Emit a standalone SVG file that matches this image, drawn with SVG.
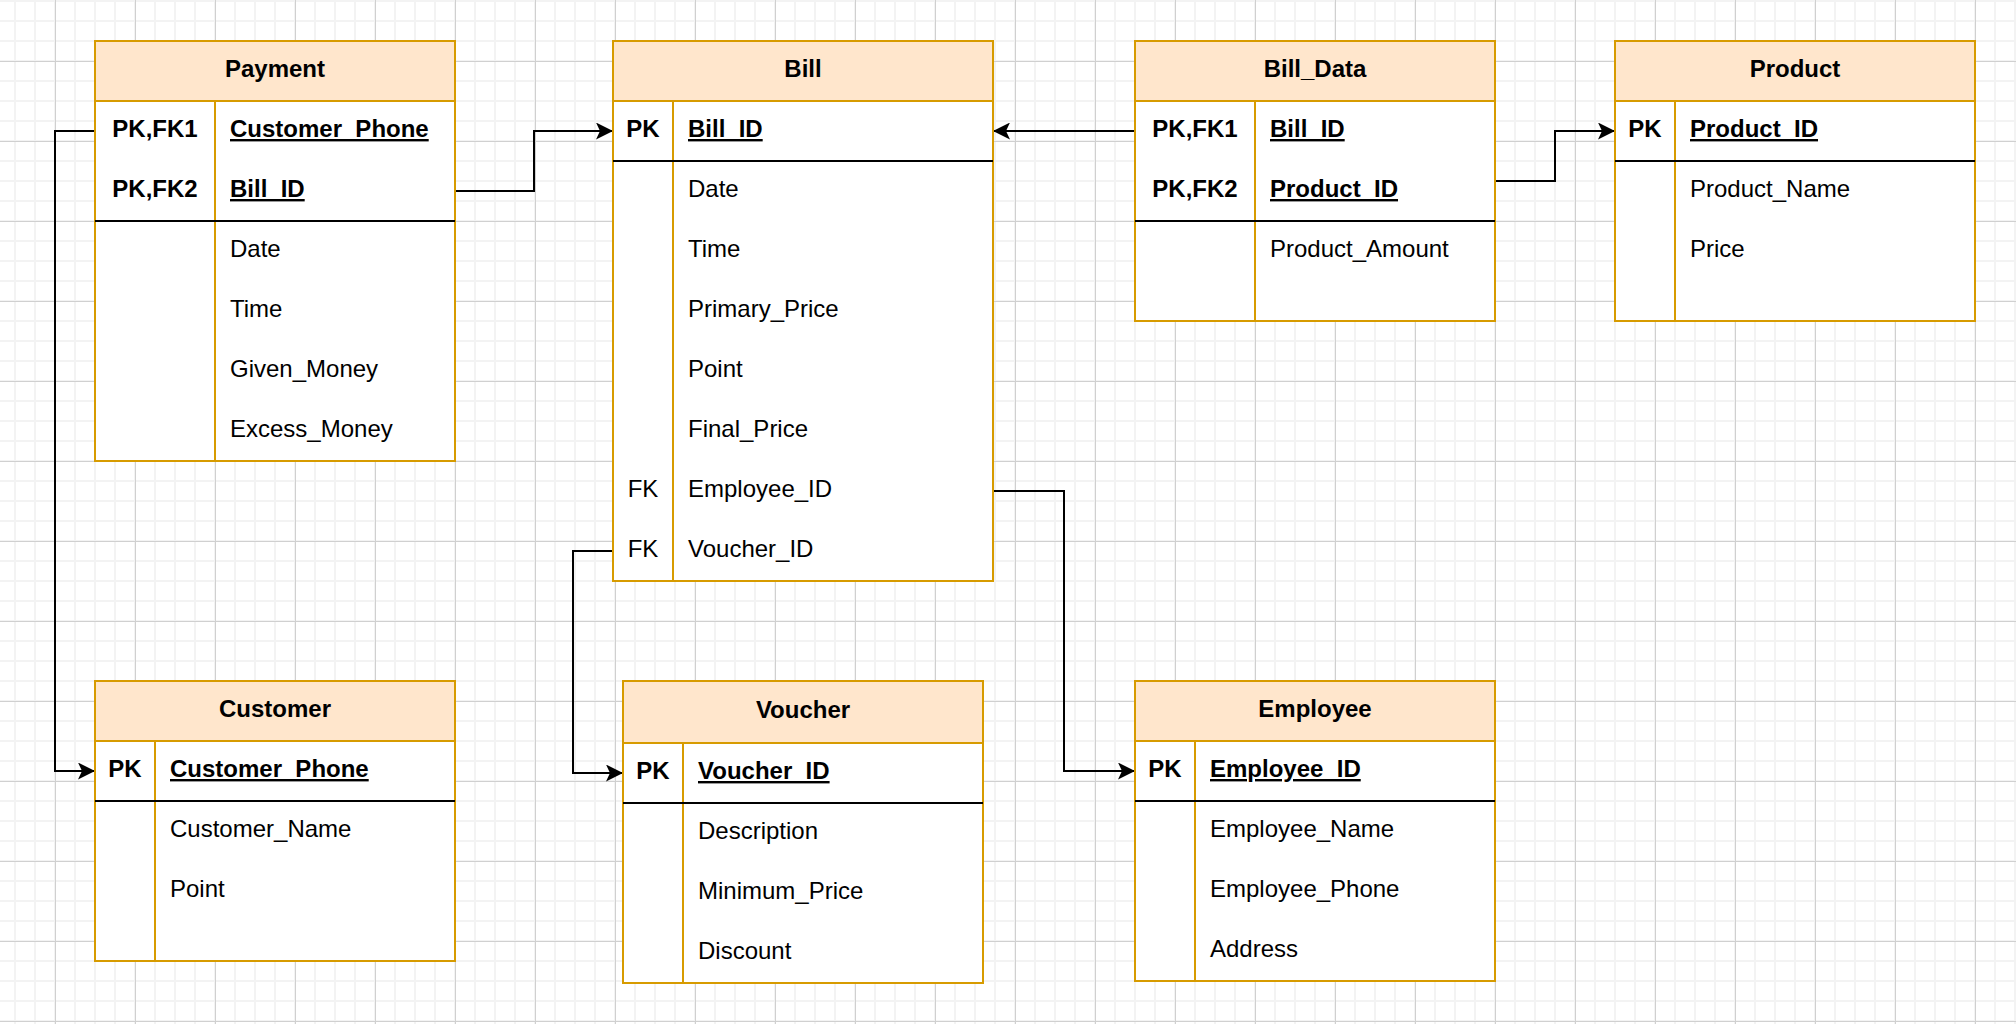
<svg xmlns="http://www.w3.org/2000/svg" width="2016" height="1024" viewBox="0 0 2016 1024">
  <style>
    .box { fill: #ffffff; stroke: #d79b00; stroke-width: 2; }
    .head { fill: #ffe6cc; stroke: #d79b00; stroke-width: 2; }
    .col { stroke: #d79b00; stroke-width: 2; fill: none; }
    .sep { stroke: #000000; stroke-width: 2; fill: none; }
    text { font-family: "Liberation Sans", Arial, Helvetica, sans-serif; font-size: 24px; fill: #000000; }
    .title { font-weight: bold; text-anchor: middle; }
    .key { font-weight: bold; text-anchor: middle; }
    .fk { text-anchor: middle; }
    .pkname { font-weight: bold; text-decoration: underline; }
    .edge { stroke: #000000; stroke-width: 2; fill: none; marker-end: url(#arrow); }
  </style>
  <defs>
    <pattern id="gridMinor" width="20" height="20" x="14" y="0" patternUnits="userSpaceOnUse">
      <rect x="0" y="0" width="2" height="20" fill="#f3f3f3"/>
      <rect x="0" y="0" width="20" height="2" fill="#f3f3f3"/>
    </pattern>
    <pattern id="gridMajor" width="80" height="80" x="55" y="61" patternUnits="userSpaceOnUse">
      <rect x="0" y="0" width="1" height="80" fill="#d0d0d0"/>
      <rect x="0" y="0" width="80" height="1" fill="#d0d0d0"/>
    </pattern>
    <marker id="arrow" viewBox="0 0 17 17" refX="17" refY="8.5" markerWidth="17" markerHeight="17" markerUnits="userSpaceOnUse" orient="auto">
      <path d="M0,0 L17,8.5 L0,17 L4,8.5 Z" fill="#000000"/>
    </marker>
  </defs>

  <!-- canvas grid -->
  <rect x="0" y="0" width="2016" height="1024" fill="#ffffff"/>
  <rect x="0" y="0" width="2016" height="1024" fill="url(#gridMinor)"/>
  <rect x="0" y="0" width="2016" height="1024" fill="url(#gridMajor)"/>

  <!-- relationships -->
  <g id="connectors">
    <path class="edge" d="M95,131 H55 V771 H95"/>
    <path class="edge" d="M455,191 H534 V131 H613"/>
    <path class="edge" d="M1135,131 H993"/>
    <path class="edge" d="M1495,181 H1555 V131 H1615"/>
    <path class="edge" d="M993,491 H1064 V771 H1135"/>
    <path class="edge" d="M613,551 H573 V773 H623"/>
  </g>

  <!-- Payment -->
  <g id="payment">
    <rect class="box" x="95" y="41" width="360" height="420"/>
    <rect class="head" x="95" y="41" width="360" height="60"/>
    <line class="col" x1="215" y1="101" x2="215" y2="461"/>
    <line class="sep" x1="95" y1="221" x2="455" y2="221"/>
    <text class="title" x="275" y="77">Payment</text>
    <text class="key" x="155" y="137">PK,FK1</text>
    <text class="pkname" x="230" y="137">Customer_Phone</text>
    <text class="key" x="155" y="197">PK,FK2</text>
    <text class="pkname" x="230" y="197">Bill_ID</text>
    <text x="230" y="257">Date</text>
    <text x="230" y="317">Time</text>
    <text x="230" y="377">Given_Money</text>
    <text x="230" y="437">Excess_Money</text>
  </g>

  <!-- Bill -->
  <g id="bill">
    <rect class="box" x="613" y="41" width="380" height="540"/>
    <rect class="head" x="613" y="41" width="380" height="60"/>
    <line class="col" x1="673" y1="101" x2="673" y2="581"/>
    <line class="sep" x1="613" y1="161" x2="993" y2="161"/>
    <text class="title" x="803" y="77">Bill</text>
    <text class="key" x="643" y="137">PK</text>
    <text class="pkname" x="688" y="137">Bill_ID</text>
    <text x="688" y="197">Date</text>
    <text x="688" y="257">Time</text>
    <text x="688" y="317">Primary_Price</text>
    <text x="688" y="377">Point</text>
    <text x="688" y="437">Final_Price</text>
    <text class="fk" x="643" y="497">FK</text>
    <text x="688" y="497">Employee_ID</text>
    <text class="fk" x="643" y="557">FK</text>
    <text x="688" y="557">Voucher_ID</text>
  </g>

  <!-- Bill_Data -->
  <g id="bill_data">
    <rect class="box" x="1135" y="41" width="360" height="280"/>
    <rect class="head" x="1135" y="41" width="360" height="60"/>
    <line class="col" x1="1255" y1="101" x2="1255" y2="321"/>
    <line class="sep" x1="1135" y1="221" x2="1495" y2="221"/>
    <text class="title" x="1315" y="77">Bill_Data</text>
    <text class="key" x="1195" y="137">PK,FK1</text>
    <text class="pkname" x="1270" y="137">Bill_ID</text>
    <text class="key" x="1195" y="197">PK,FK2</text>
    <text class="pkname" x="1270" y="197">Product_ID</text>
    <text x="1270" y="257">Product_Amount</text>
  </g>

  <!-- Product -->
  <g id="product">
    <rect class="box" x="1615" y="41" width="360" height="280"/>
    <rect class="head" x="1615" y="41" width="360" height="60"/>
    <line class="col" x1="1675" y1="101" x2="1675" y2="321"/>
    <line class="sep" x1="1615" y1="161" x2="1975" y2="161"/>
    <text class="title" x="1795" y="77">Product</text>
    <text class="key" x="1645" y="137">PK</text>
    <text class="pkname" x="1690" y="137">Product_ID</text>
    <text x="1690" y="197">Product_Name</text>
    <text x="1690" y="257">Price</text>
  </g>

  <!-- Customer -->
  <g id="customer">
    <rect class="box" x="95" y="681" width="360" height="280"/>
    <rect class="head" x="95" y="681" width="360" height="60"/>
    <line class="col" x1="155" y1="741" x2="155" y2="961"/>
    <line class="sep" x1="95" y1="801" x2="455" y2="801"/>
    <text class="title" x="275" y="717">Customer</text>
    <text class="key" x="125" y="777">PK</text>
    <text class="pkname" x="170" y="777">Customer_Phone</text>
    <text x="170" y="837">Customer_Name</text>
    <text x="170" y="897">Point</text>
  </g>

  <!-- Voucher -->
  <g id="voucher">
    <rect class="box" x="623" y="681" width="360" height="302"/>
    <rect class="head" x="623" y="681" width="360" height="62"/>
    <line class="col" x1="683" y1="743" x2="683" y2="983"/>
    <line class="sep" x1="623" y1="803" x2="983" y2="803"/>
    <text class="title" x="803" y="718">Voucher</text>
    <text class="key" x="653" y="779">PK</text>
    <text class="pkname" x="698" y="779">Voucher_ID</text>
    <text x="698" y="839">Description</text>
    <text x="698" y="899">Minimum_Price</text>
    <text x="698" y="959">Discount</text>
  </g>

  <!-- Employee -->
  <g id="employee">
    <rect class="box" x="1135" y="681" width="360" height="300"/>
    <rect class="head" x="1135" y="681" width="360" height="60"/>
    <line class="col" x1="1195" y1="741" x2="1195" y2="981"/>
    <line class="sep" x1="1135" y1="801" x2="1495" y2="801"/>
    <text class="title" x="1315" y="717">Employee</text>
    <text class="key" x="1165" y="777">PK</text>
    <text class="pkname" x="1210" y="777">Employee_ID</text>
    <text x="1210" y="837">Employee_Name</text>
    <text x="1210" y="897">Employee_Phone</text>
    <text x="1210" y="957">Address</text>
  </g>
</svg>
